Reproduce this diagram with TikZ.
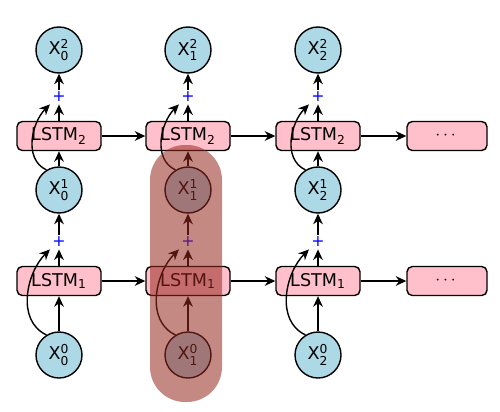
\documentclass[tikz,border=0pt]{standalone}
\usepackage{amsmath}
\usepackage{fontspec}
\setmainfont{DejaVu Sans}
\usetikzlibrary{arrows.meta}

\definecolor{cellpink}{RGB}{255,192,203}
\definecolor{seqblue}{RGB}{173,216,230}
\definecolor{hilite}{RGB}{150,40,30}

\tikzset{
  arr/.style={-{Stealth[length=6pt,width=5.5pt]}, line width=0.8pt},
  xnode/.style={circle, draw, line width=0.8pt, fill=seqblue, minimum size=0.92cm, inner sep=0pt},
  cell/.style={rounded corners=3pt, draw, line width=0.8pt, fill=cellpink, minimum width=1.68cm, minimum height=0.58cm, inner sep=0pt},
  addnode/.style={text=blue, inner sep=1.2pt, font=\small}
}

\begin{document}
\begin{tikzpicture}
        \useasboundingbox (0,0) rectangle (10,8.22);

        % three time steps, two stacked layers
        \foreach \i/\x in {0/1.18, 1/3.76, 2/6.36} {
            \node[xnode] (x0\i) at (\x,1.12) {X$^{\text{0}}_{\text{\i}}$};
            \node[cell]  (l1\i) at (\x,2.6) {LSTM\textsubscript{1}};
            \node[addnode] (p1\i) at (\x,3.38) {+};
            \node[xnode] (x1\i) at (\x,4.42) {X$^{\text{1}}_{\text{\i}}$};
            \node[cell]  (l2\i) at (\x,5.5) {LSTM\textsubscript{2}};
            \node[addnode] (p2\i) at (\x,6.28) {+};
            \node[xnode] (x2\i) at (\x,7.22) {X$^{\text{2}}_{\text{\i}}$};

            \draw[arr] (x0\i) -- (l1\i);
            \draw[arr] (l1\i) -- (p1\i);
            \draw[arr] (p1\i) -- (x1\i);
            \draw[arr] (x0\i.122) to[out=155,in=225] (p1\i.south west);
            \draw[arr] (x1\i) -- (l2\i);
            \draw[arr] (l2\i) -- (p2\i);
            \draw[arr] (p2\i) -- (x2\i);
            \draw[arr] (x1\i.122) to[out=155,in=225] (p2\i.south west);
        }

        \node[cell, minimum width=1.6cm] (l1d) at (8.94,2.6) {$\cdots$};
        \node[cell, minimum width=1.6cm] (l2d) at (8.94,5.5) {$\cdots$};

        \foreach \a/\b in {l10/l11, l11/l12, l12/l1d, l20/l21, l21/l22, l22/l2d}
            \draw[arr] (\a) -- (\b);

        % highlighted column
        \fill[hilite, fill opacity=0.55, rounded corners=0.7cm] (3.0,0.18) rectangle (4.44,5.32);
    \end{tikzpicture}
\end{document}
